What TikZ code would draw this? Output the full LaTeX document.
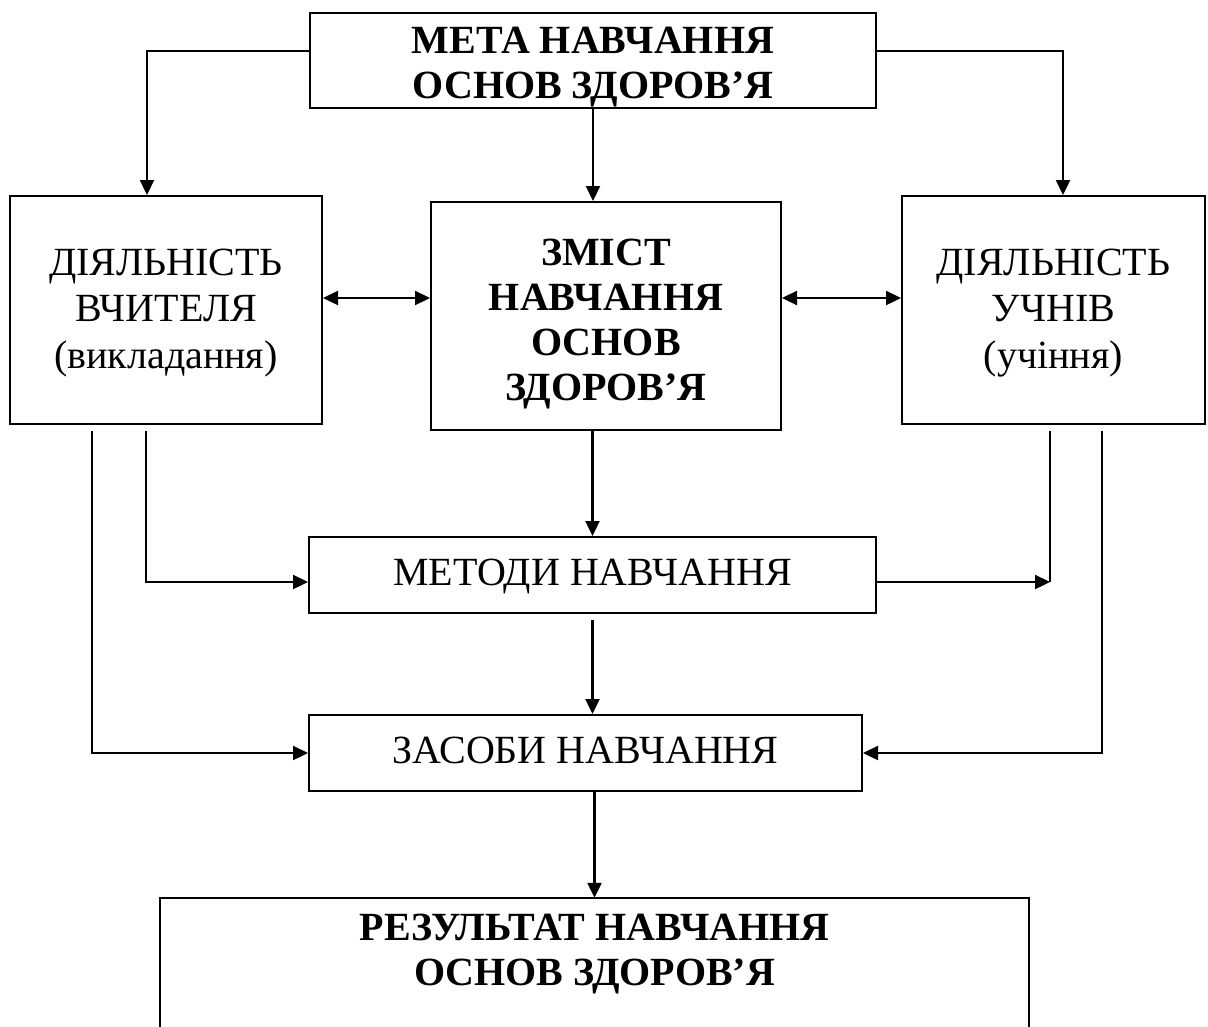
\documentclass[tikz,border=0pt]{standalone}
\usepackage{fontspec}
\setmainfont{Liberation Serif}
\usetikzlibrary{arrows.meta}
\newcommand\mylines[1]{\begin{tabular}[b]{@{}c@{}}#1\end{tabular}}
\tikzset{
  box/.style={draw, line width=2pt, inner sep=0pt, text depth=0pt},
  reg/.style={font=\fontsize{40}{46.5}\selectfont},
  bld/.style={font=\fontsize{40}{45}\selectfont\bfseries},
  wire/.style={line width=2.3pt},
  conn/.style={line width=2.3pt, -{Triangle[length=15pt,width=14pt]}},
  dconn/.style={line width=2.3pt, {Triangle[length=15pt,width=14pt]}-{Triangle[length=15pt,width=14pt]}}
}
\begin{document}
\begin{tikzpicture}[x=1pt,y=-1pt]
\useasboundingbox (0,0) rectangle (1208,1026);
\clip (0,0) rectangle (1208,1026);
\fill[white] (0,0) rectangle (1208,1026);
\node[box,bld,text height=75pt,minimum width=566pt,minimum height=95pt] (top) at (593,60.5) {\mylines{МЕТА НАВЧАННЯ\\ОСНОВ ЗДОРОВ’Я}};
\node[box,reg,text height=116pt,minimum width=312pt,minimum height=228pt] (lb) at (166,310) {\mylines{ДІЯЛЬНІСТЬ\\ВЧИТЕЛЯ\\(викладання)}};
\node[box,bld,text height=168pt,minimum width=350pt,minimum height=228pt] (zm) at (606,316) {\mylines{ЗМІСТ\\НАВЧАННЯ\\ОСНОВ\\ЗДОРОВ’Я}};
\node[box,reg,text height=116pt,minimum width=303pt,minimum height=228pt] (rb) at (1053.5,310) {\mylines{ДІЯЛЬНІСТЬ\\УЧНІВ\\(учіння)}};
\node[box,reg,text height=20pt,minimum width=567pt,minimum height=76pt] (met) at (592.5,575) {МЕТОДИ НАВЧАННЯ};
\node[box,reg,text height=20pt,minimum width=553pt,minimum height=76pt] (zas) at (585.5,753) {ЗАСОБИ НАВЧАННЯ};
\node[bld,inner sep=0pt,text depth=0pt,text height=50pt,minimum width=869pt,minimum height=124pt] (res) at (594.5,960) {\mylines{РЕЗУЛЬТАТ НАВЧАННЯ\\ОСНОВ ЗДОРОВ’Я}};
\draw[line width=2pt] ([yshift=-80pt]res.south west) -- (res.north west) -- (res.north east) -- ([yshift=-80pt]res.south east);
% connectors
\draw[conn] ([yshift=9.5pt]top.west) -| ([xshift=-19pt]lb.north);
\draw[conn] ([yshift=9.5pt]top.east) -| ([xshift=9.5pt]rb.north);
\draw[conn] (top.south) -- (top.south |- zm.north);
\draw[dconn] ([yshift=12pt]lb.east) -- ([yshift=18pt]zm.west);
\draw[dconn] ([yshift=18pt]zm.east) -- ([yshift=12pt]rb.west);
\draw[conn] (met.north |- zm.south) -- (met.north);
\draw[conn,shorten <=6pt] (met.south) -- (met.south |- zas.north);
\draw[conn] (zas.south -| res.north) -- (res.north);
\draw[conn,shorten <=6pt] ([xshift=-20pt]lb.south) |- ([yshift=-7pt]met.west);
\draw[conn,shorten <=6pt] ([xshift=-74pt]lb.south) |- (zas.west);
\coordinate (j) at (1050,582);
\draw[wire,shorten <=6pt] ([xshift=-3.5pt]rb.south) -- (j);
\draw[conn] ([yshift=-7pt]met.east) -- (j);
\draw[conn,shorten <=6pt] ([xshift=48.5pt]rb.south) |- (zas.east);
\end{tikzpicture}
\end{document}
